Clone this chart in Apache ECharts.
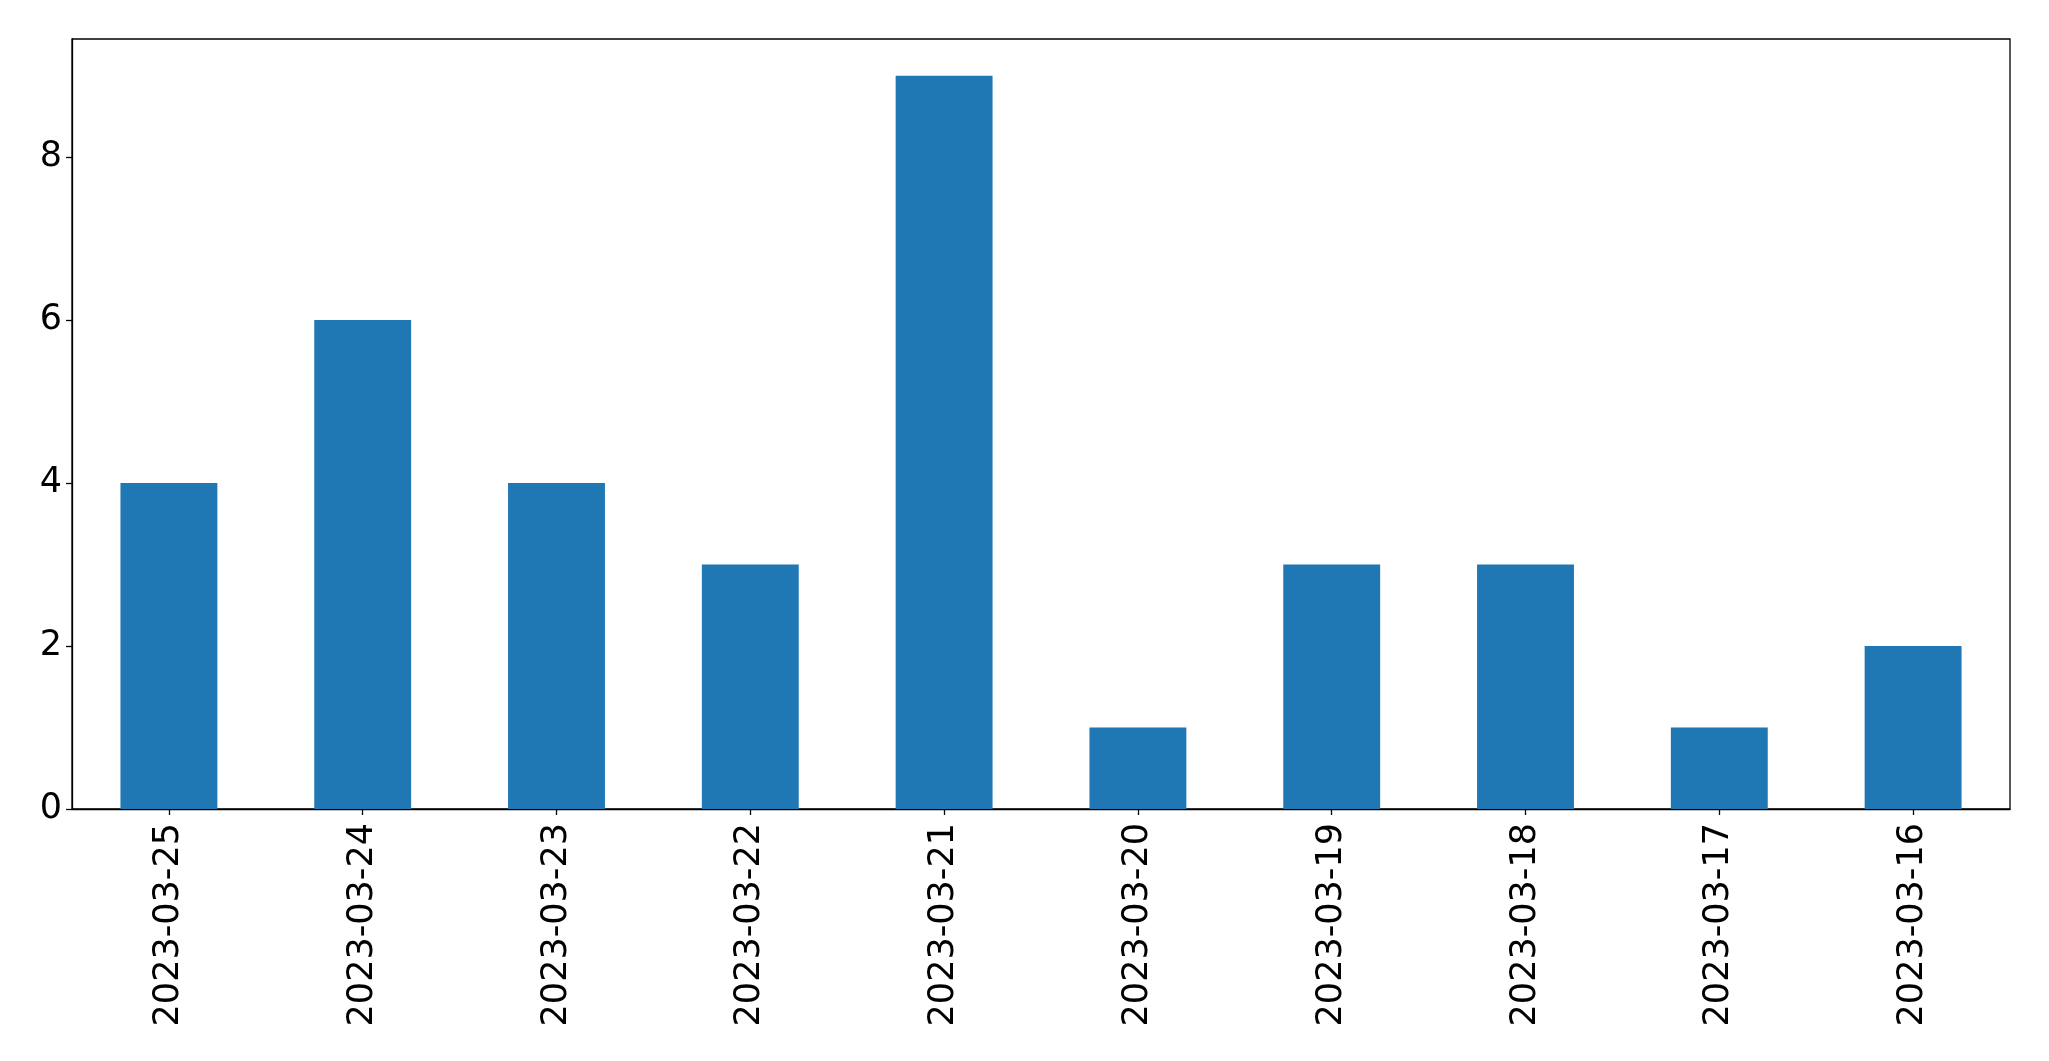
<!DOCTYPE html>
<html>
<head>
<meta charset="utf-8">
<script src="https://cdn.jsdelivr.net/npm/echarts@6/dist/echarts.min.js"></script>
<style>html,body{margin:0;padding:0;background:#fff;}#c{width:2049px;height:1061px;}</style>
</head>
<body>
<div id="c"></div>
<script>
const categories = ["2023-03-25","2023-03-24","2023-03-23","2023-03-22","2023-03-21","2023-03-20","2023-03-19","2023-03-18","2023-03-17","2023-03-16"];
const values = [4, 6, 4, 3, 9, 1, 3, 3, 1, 2];
const yTicks = [0, 2, 4, 6, 8];

const chart = echarts.init(document.getElementById('c'), null, {renderer: 'canvas'});
chart.setOption({
  animation: false,
  backgroundColor: '#fff',
  grid: {left: 72, top: 39, right: 39, bottom: 252, containLabel: false, show: true, borderColor: '#000', borderWidth: 1.3, backgroundColor: 'transparent'},
  xAxis: {
    type: 'category',
    data: categories,
    axisLine: {show: true, lineStyle: {color: '#000', width: 1.3}},
    axisTick: {show: true, alignWithLabel: true, length: 6, lineStyle: {color: '#000', width: 1.3}},
    axisLabel: {rotate: 90, margin: 14, color: '#000', fontSize: 35, fontFamily: 'DejaVu Sans', interval: 0},
    splitLine: {show: false}
  },
  yAxis: {
    type: 'value',
    min: 0,
    max: 9.45,
    interval: 2,
    axisLine: {show: true, lineStyle: {color: '#000', width: 1.3}},
    axisTick: {show: true, length: 6, lineStyle: {color: '#000', width: 1.3}, customValues: yTicks},
    axisLabel: {margin: 10, color: '#000', fontSize: 35, fontFamily: 'DejaVu Sans', customValues: yTicks},
    splitLine: {show: false}
  },
  series: [{
    type: 'bar',
    data: values,
    barWidth: '50%',
    itemStyle: {color: '#1f77b4'}
  }]
});
</script>
</body>
</html>
